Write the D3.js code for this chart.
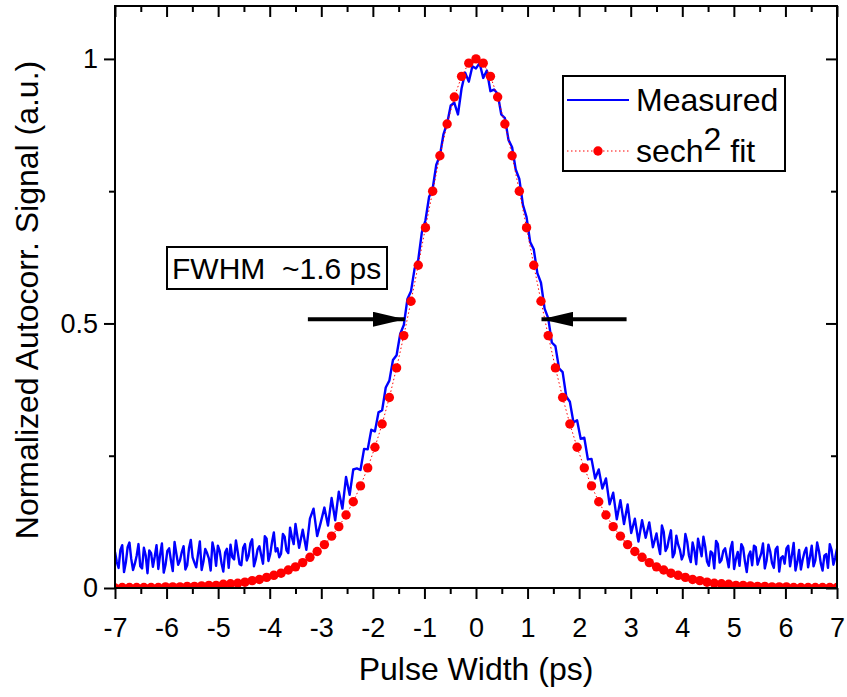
<!DOCTYPE html>
<html>
<head>
<meta charset="utf-8">
<script src="https://cdn.jsdelivr.net/npm/d3@7"></script>
<style>
  body { margin: 0; background: #fff; }
  svg { display: block; font-family: Arial, 'Liberation Sans', sans-serif; }
</style>
</head>
<body>
<div id="chart"></div>
<script>
// measured autocorrelation trace (ps, a.u.), denser sampling in the wings
const measuredX = [
  -7,-6.965,-6.93,-6.895,-6.86,-6.825,-6.79,-6.755,-6.72,-6.685,-6.65,-6.615,-6.58,-6.545,-6.51,-6.475,-6.44,-6.405,-6.37,-6.335,
  -6.3,-6.265,-6.23,-6.195,-6.16,-6.125,-6.09,-6.055,-6.02,-5.985,-5.95,-5.915,-5.88,-5.845,-5.81,-5.775,-5.74,-5.705,-5.67,-5.635,
  -5.6,-5.565,-5.53,-5.495,-5.46,-5.425,-5.39,-5.355,-5.32,-5.285,-5.25,-5.215,-5.18,-5.145,-5.11,-5.075,-5.04,-5.005,-4.97,-4.935,
  -4.9,-4.865,-4.83,-4.795,-4.76,-4.725,-4.69,-4.655,-4.62,-4.585,-4.55,-4.515,-4.48,-4.445,-4.41,-4.375,-4.34,-4.305,-4.27,-4.235,
  -4.2,-4.165,-4.13,-4.095,-4.06,-4.025,-3.99,-3.955,-3.92,-3.885,-3.85,-3.815,-3.78,-3.745,-3.71,-3.675,-3.64,-3.605,-3.57,-3.535,
  -3.5,-3.43,-3.36,-3.29,-3.22,-3.15,-3.08,-3.01,-2.94,-2.87,-2.8,-2.73,-2.66,-2.59,-2.52,-2.45,-2.38,-2.31,-2.24,-2.17,
  -2.1,-2.03,-1.96,-1.89,-1.82,-1.75,-1.68,-1.61,-1.54,-1.47,-1.4,-1.33,-1.26,-1.19,-1.12,-1.05,-0.98,-0.91,-0.84,-0.77,
  -0.7,-0.63,-0.56,-0.49,-0.42,-0.35,-0.28,-0.21,-0.14,-0.07,
  0,
  0.07,0.14,0.21,0.28,0.35,0.42,0.49,0.56,0.63,0.7,0.77,0.84,0.91,0.98,1.05,1.12,1.19,1.26,1.33,1.4,
  1.47,1.54,1.61,1.68,1.75,1.82,1.89,1.96,2.03,2.1,2.17,2.24,2.31,2.38,2.45,2.52,2.59,2.66,2.73,2.8,
  2.87,2.94,3.01,3.08,3.15,3.22,3.29,3.36,3.43,
  3.5,3.535,3.57,3.605,3.64,3.675,3.71,3.745,3.78,3.815,3.85,3.885,3.92,3.955,3.99,4.025,4.06,4.095,4.13,4.165,
  4.2,4.235,4.27,4.305,4.34,4.375,4.41,4.445,4.48,4.515,4.55,4.585,4.62,4.655,4.69,4.725,4.76,4.795,4.83,4.865,
  4.9,4.935,4.97,5.005,5.04,5.075,5.11,5.145,5.18,5.215,5.25,5.285,5.32,5.355,5.39,5.425,5.46,5.495,5.53,5.565,
  5.6,5.635,5.67,5.705,5.74,5.775,5.81,5.845,5.88,5.915,5.95,5.985,6.02,6.055,6.09,6.125,6.16,6.195,6.23,6.265,
  6.3,6.335,6.37,6.405,6.44,6.475,6.51,6.545,6.58,6.615,6.65,6.685,6.72,6.755,6.79,6.825,6.86,6.895,6.93,6.965,7
];
const measuredY = [
  .068,.049,.038,.072,.081,.030,.048,.077,.086,.055,.034,.046,.061,.083,.041,.037,.076,.062,.028,.071,
  .066,.040,.059,.081,.036,.063,.084,.029,.044,.070,.075,.052,.032,.087,.065,.044,.052,.068,.079,.035,
  .043,.075,.091,.058,.048,.039,.064,.088,.034,.050,.074,.066,.056,.033,.086,.071,.042,.080,.070,.047,
  .031,.067,.074,.038,.082,.058,.054,.090,.068,.045,.043,.076,.083,.052,.061,.084,.092,.041,.054,.073,
  .079,.062,.046,.098,.093,.051,.064,.087,.105,.069,.075,.058,.065,.102,.097,.071,.066,.114,.096,.083,
  .121,.076,.110,.072,.131,.150,.098,.124,.152,.118,.170,.128,.182,.150,.210,.176,.224,.226,.223,.263,
  .262,.299,.296,.332,.336,.379,.392,.431,.440,.480,.497,.546,.561,.604,.620,.672,.695,.739,.755,.800,
  .817,.858,.878,.912,.917,.895,.944,.974,.957,.986,
  .982,
  .992,.964,.978,.939,.942,.934,.895,.888,.847,.833,.791,.773,.724,.701,.654,.640,.595,.577,.528,.510,
  .464,.457,.415,.408,.362,.352,.313,.317,.282,.284,.243,.244,.207,.224,.188,.207,.158,.180,.130,.166,
  .121,.158,.104,.131,.088,.128,.095,.124,.077,
  .103,.081,.064,.118,.106,.070,.077,.095,.109,.058,.066,.099,.082,.072,.054,.063,.102,.088,.061,.049,
  .086,.071,.045,.093,.077,.060,.097,.078,.050,.042,.069,.066,.037,.089,.083,.048,.053,.070,.075,.057,
  .039,.074,.087,.036,.055,.068,.042,.083,.076,.050,.030,.061,.069,.043,.080,.077,.044,.055,.065,.084,
  .037,.052,.082,.069,.047,.038,.073,.078,.031,.057,.060,.046,.075,.080,.041,.062,.085,.033,.049,.072,
  .035,.054,.068,.076,.039,.058,.080,.041,.052,.086,.070,.047,.033,.061,.064,.038,.083,.072,.044,.057,.074
];

// sech^2 fit
const fitX = [
  -7,-6.86,-6.72,-6.58,-6.44,-6.3,-6.16,-6.02,-5.88,-5.74,-5.6,-5.46,-5.32,-5.18,-5.04,-4.9,-4.76,-4.62,-4.48,-4.34,
  -4.2,-4.06,-3.92,-3.78,-3.64,-3.5,-3.36,-3.22,-3.08,-2.94,-2.8,-2.66,-2.52,-2.38,-2.24,-2.1,-1.96,-1.82,-1.68,-1.54,
  -1.4,-1.26,-1.12,-0.98,-0.84,-0.7,-0.56,-0.42,-0.28,-0.14,
  0,
  0.14,0.28,0.42,0.56,0.7,0.84,0.98,1.12,1.26,1.4,1.54,1.68,1.82,1.96,2.1,2.24,2.38,2.52,2.66,2.8,
  2.94,3.08,3.22,3.36,3.5,3.64,3.78,3.92,4.06,4.2,4.34,4.48,4.62,4.76,4.9,5.04,5.18,5.32,5.46,5.6,
  5.74,5.88,6.02,6.16,6.3,6.44,6.58,6.72,6.86,7
];
const fitY = [
  .000,.001,.001,.001,.001,.001,.001,.002,.002,.002,.003,.003,.004,.005,.005,.007,.008,.009,.011,.014,
  .016,.020,.024,.028,.034,.040,.048,.058,.069,.082,.098,.116,.138,.163,.193,.227,.266,.310,.360,.416,
  .477,.542,.610,.681,.750,.817,.877,.928,.967,.992,
  1.000,
  .992,.967,.928,.877,.817,.750,.681,.610,.542,.477,.416,.360,.310,.266,.227,.193,.163,.138,.116,.098,
  .082,.069,.058,.048,.040,.034,.028,.024,.020,.016,.014,.011,.009,.008,.007,.005,.005,.004,.003,.003,
  .002,.002,.002,.001,.001,.001,.001,.001,.001,.001,.000
];

const xMajorTicks = [-7,-6,-5,-4,-3,-2,-1,0,1,2,3,4,5,6,7];
const xMinorTicks = [-6.5,-5.5,-4.5,-3.5,-2.5,-1.5,-0.5,0.5,1.5,2.5,3.5,4.5,5.5,6.5];
const yMajorTicks = [0, 0.5, 1];
const yMinorTicks = [0.25, 0.75];

// FWHM arrows: tail -> tip, in data units
const fwhmArrows = [
  { from: -3.26, to: -1.38, y: 0.508 },
  { from: 2.92, to: 1.27, y: 0.508 },
];

const WIDTH = 847;
const HEIGHT = 697;
const MARGIN = { TOP: 6, RIGHT: 10, BOTTOM: 109, LEFT: 115 };
const FONT_TICK = 27;
const FONT_TITLE = 32;
const FONT_LEGEND = 32;
const FONT_NOTE = 30;

const plotW = WIDTH - MARGIN.LEFT - MARGIN.RIGHT;
const plotH = HEIGHT - MARGIN.TOP - MARGIN.BOTTOM;

const x = d3.scaleLinear([-7, 7], [0, plotW]);
const y = d3.scaleLinear([0, 1.1], [plotH, 0]);

const svg = d3.select('#chart')
  .append('svg')
  .attr('width', WIDTH)
  .attr('height', HEIGHT);

const g = svg.append('g')
  .attr('transform', `translate(${MARGIN.LEFT}, ${MARGIN.TOP})`);

g.append('clipPath')
  .attr('id', 'plot-clip')
  .append('rect')
  .attr('width', plotW)
  .attr('height', plotH);

const drawAxis = (axis, transform, withText) => {
  const a = g.append('g')
    .attr('transform', transform)
    .call(axis);
  a.select('.domain').remove();
  a.selectAll('line').attr('stroke', '#000').attr('stroke-width', 2);
  a.selectAll('text')
    .attr('fill', '#000')
    .style('font-size', `${FONT_TICK}px`)
    .style('display', withText ? null : 'none');
  return a;
};

// bottom / left: ticks outside, with labels
drawAxis(
  d3.axisBottom(x).tickValues(xMajorTicks).tickSize(11).tickPadding(19).tickFormat((d) => String(d)),
  `translate(0, ${plotH})`, true,
);
drawAxis(d3.axisBottom(x).tickValues(xMinorTicks).tickSize(6).tickFormat(''), `translate(0, ${plotH})`, false);
drawAxis(
  d3.axisLeft(y).tickValues(yMajorTicks).tickSize(11).tickPadding(6).tickFormat((d) => String(d)),
  'translate(0, 0)', true,
);
drawAxis(d3.axisLeft(y).tickValues(yMinorTicks).tickSize(6).tickFormat(''), 'translate(0, 0)', false);

// top / right: ticks inside, no labels
drawAxis(d3.axisTop(x).tickValues(xMajorTicks).tickSize(-11).tickFormat(''), 'translate(0, 0)', false);
drawAxis(d3.axisTop(x).tickValues(xMinorTicks).tickSize(-6).tickFormat(''), 'translate(0, 0)', false);
drawAxis(d3.axisRight(y).tickValues(yMajorTicks).tickSize(-11).tickFormat(''), `translate(${plotW}, 0)`, false);
drawAxis(d3.axisRight(y).tickValues(yMinorTicks).tickSize(-6).tickFormat(''), `translate(${plotW}, 0)`, false);

const measured = d3.zip(measuredX, measuredY);
const fit = d3.zip(fitX, fitY);
const line = d3.line().x((d) => x(d[0])).y((d) => y(d[1]));

const plot = g.append('g').attr('clip-path', 'url(#plot-clip)');

plot.append('path')
  .datum(measured)
  .attr('fill', 'none')
  .attr('stroke', '#0000ff')
  .attr('stroke-width', 2.4)
  .attr('stroke-linejoin', 'round')
  .attr('d', line);

plot.append('path')
  .datum(fit)
  .attr('fill', 'none')
  .attr('stroke', '#ff0000')
  .attr('stroke-width', 1)
  .attr('stroke-dasharray', '1.5,2.5')
  .attr('d', line);

plot.selectAll('circle.fit')
  .data(fit)
  .join('circle')
  .attr('class', 'fit')
  .attr('cx', (d) => x(d[0]))
  .attr('cy', (d) => y(d[1]))
  .attr('r', 4.7)
  .attr('fill', '#ff0000');

// frame
g.append('rect')
  .attr('width', plotW)
  .attr('height', plotH)
  .attr('fill', 'none')
  .attr('stroke', '#000')
  .attr('stroke-width', 2);

// FWHM arrows
svg.append('defs')
  .append('marker')
  .attr('id', 'arrow-head')
  .attr('viewBox', '0 0 10 10')
  .attr('refX', 10)
  .attr('refY', 5)
  .attr('markerUnits', 'userSpaceOnUse')
  .attr('markerWidth', 32)
  .attr('markerHeight', 15)
  .attr('orient', 'auto')
  .attr('preserveAspectRatio', 'none')
  .append('path')
  .attr('d', 'M0,0 L10,5 L0,10 Z')
  .attr('fill', '#000');

g.selectAll('line.fwhm')
  .data(fwhmArrows)
  .join('line')
  .attr('class', 'fwhm')
  .attr('x1', (d) => x(d.from))
  .attr('x2', (d) => x(d.to))
  .attr('y1', (d) => y(d.y))
  .attr('y2', (d) => y(d.y))
  .attr('stroke', '#000')
  .attr('stroke-width', 4)
  .attr('marker-end', 'url(#arrow-head)');

// FWHM label
const fwhm = svg.append('g').attr('transform', 'translate(167, 247)');
fwhm.append('rect')
  .attr('width', 220)
  .attr('height', 42)
  .attr('fill', '#fff')
  .attr('stroke', '#000')
  .attr('stroke-width', 2);
fwhm.append('text')
  .attr('x', 5)
  .attr('y', 32)
  .style('font-size', `${FONT_NOTE}px`)
  .style('white-space', 'pre')
  .text('FWHM  ~1.6 ps');

// legend
const legend = svg.append('g').attr('transform', 'translate(563, 76)');
legend.append('rect')
  .attr('width', 222)
  .attr('height', 95)
  .attr('fill', '#fff')
  .attr('stroke', '#000')
  .attr('stroke-width', 2);
legend.append('line')
  .attr('x1', 4).attr('x2', 66)
  .attr('y1', 24).attr('y2', 24)
  .attr('stroke', '#0000ff')
  .attr('stroke-width', 2.2);
legend.append('text')
  .attr('x', 73)
  .attr('y', 35)
  .style('font-size', `${FONT_LEGEND}px`)
  .text('Measured');
legend.append('line')
  .attr('x1', 4).attr('x2', 66)
  .attr('y1', 75).attr('y2', 75)
  .attr('stroke', '#ff0000')
  .attr('stroke-width', 1)
  .attr('stroke-dasharray', '1.5,2.5');
legend.append('circle')
  .attr('cx', 35)
  .attr('cy', 75)
  .attr('r', 4.7)
  .attr('fill', '#ff0000');
const sechText = legend.append('text')
  .attr('x', 73)
  .attr('y', 86)
  .style('font-size', `${FONT_LEGEND}px`);
sechText.append('tspan').text('sech');
sechText.append('tspan').attr('dy', -12).text('2');
sechText.append('tspan').attr('dy', 12).text(' fit');

// axis titles
svg.append('text')
  .attr('x', MARGIN.LEFT + plotW / 2)
  .attr('y', 680)
  .attr('text-anchor', 'middle')
  .style('font-size', `${FONT_TITLE}px`)
  .text('Pulse Width (ps)');

svg.append('text')
  .attr('transform', `translate(38, ${MARGIN.TOP + plotH / 2 + 3}) rotate(-90)`)
  .attr('text-anchor', 'middle')
  .style('font-size', `${FONT_TITLE}px`)
  .text('Normalized Autocorr. Signal (a.u.)');
</script>
</body>
</html>
